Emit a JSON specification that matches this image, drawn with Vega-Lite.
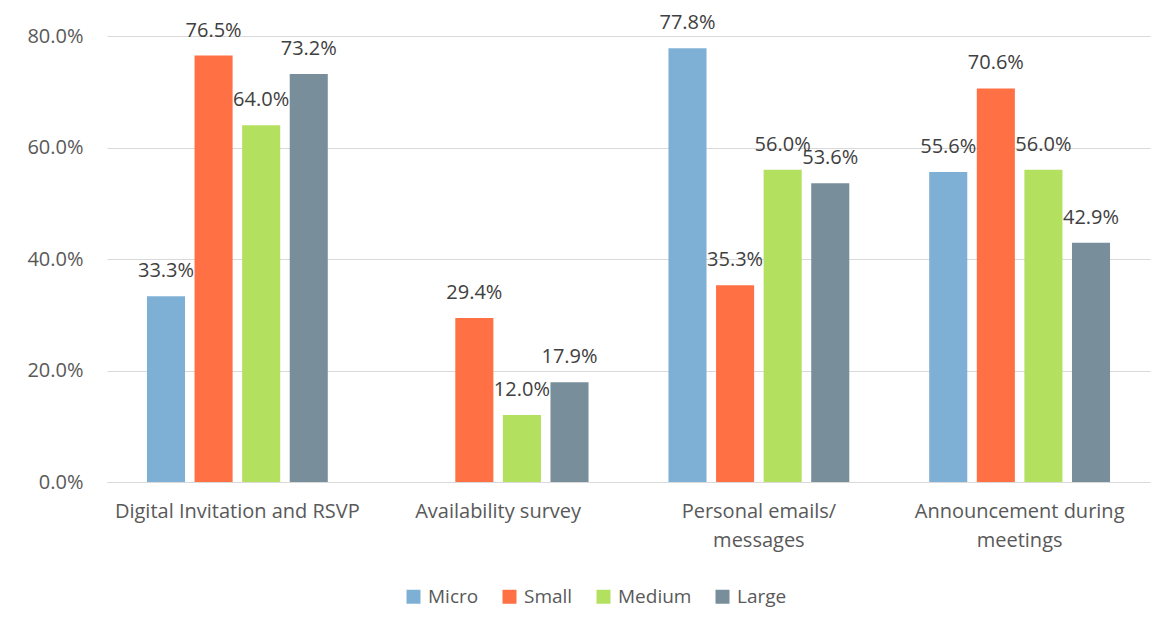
{
  "$schema": "https://vega.github.io/schema/vega-lite/v6.json",
  "autosize": {"type": "none"},
  "width": 1043,
  "height": 446,
  "padding": {"left": 107, "top": 36, "right": 21, "bottom": 147},
  "background": "white",
  "config": {
    "view": {"stroke": null},
    "font": "Open Sans",
    "axis": {"labelFont": "Open Sans", "labelColor": "#595959", "labelFontSize": 20, "labelLimit": 0}
  },
  "data": {
    "values": [
      {"channel": "Digital Invitation and RSVP", "size": "Micro", "share": 0.333},
      {"channel": "Digital Invitation and RSVP", "size": "Small", "share": 0.765},
      {"channel": "Digital Invitation and RSVP", "size": "Medium", "share": 0.64},
      {"channel": "Digital Invitation and RSVP", "size": "Large", "share": 0.732},
      {"channel": "Availability survey", "size": "Small", "share": 0.294},
      {"channel": "Availability survey", "size": "Medium", "share": 0.12},
      {"channel": "Availability survey", "size": "Large", "share": 0.179},
      {"channel": "Personal emails/ messages", "size": "Micro", "share": 0.778},
      {"channel": "Personal emails/ messages", "size": "Small", "share": 0.353},
      {"channel": "Personal emails/ messages", "size": "Medium", "share": 0.56},
      {"channel": "Personal emails/ messages", "size": "Large", "share": 0.536},
      {"channel": "Announcement during meetings", "size": "Micro", "share": 0.556},
      {"channel": "Announcement during meetings", "size": "Small", "share": 0.706},
      {"channel": "Announcement during meetings", "size": "Medium", "share": 0.56},
      {"channel": "Announcement during meetings", "size": "Large", "share": 0.429}
    ]
  },
  "encoding": {
    "x": {
      "field": "channel",
      "type": "nominal",
      "sort": ["Digital Invitation and RSVP", "Availability survey", "Personal emails/ messages", "Announcement during meetings"],
      "scale": {"paddingInner": 0.27, "paddingOuter": 0.135},
      "axis": {
        "title": null,
        "labelAngle": 0,
        "ticks": false,
        "domainColor": "#D9D9D9",
        "domainWidth": 1,
        "labelPadding": 19,
        "labelLineHeight": 29,
        "labelBaseline": "top",
        "labelExpr": "datum.value == 'Personal emails/ messages' ? ['Personal emails/', 'messages'] : datum.value == 'Announcement during meetings' ? ['Announcement during', 'meetings'] : datum.value"
      }
    },
    "xOffset": {
      "field": "size",
      "type": "nominal",
      "sort": ["Micro", "Small", "Medium", "Large"],
      "scale": {"paddingInner": 0.2, "paddingOuter": 0.1}
    },
    "y": {
      "field": "share",
      "type": "quantitative",
      "scale": {"domain": [0, 0.8], "nice": false},
      "axis": {
        "title": null,
        "format": ".1%",
        "values": [0, 0.2, 0.4, 0.6, 0.8],
        "domain": false,
        "ticks": false,
        "labelPadding": 24,
        "gridColor": "#D9D9D9",
        "gridWidth": 1
      }
    }
  },
  "layer": [
    {
      "mark": {"type": "bar"},
      "encoding": {
        "color": {
          "field": "size",
          "type": "nominal",
          "sort": ["Micro", "Small", "Medium", "Large"],
          "scale": {
            "domain": ["Micro", "Small", "Medium", "Large"],
            "range": ["#7EB0D5", "#FF7145", "#B3E05F", "#788F9B"]
          },
          "legend": {
            "title": null,
            "orient": "none",
            "direction": "horizontal",
            "legendX": 297,
            "legendY": 551,
            "symbolType": "square",
            "symbolSize": 196,
            "symbolStrokeWidth": 0,
            "symbolOpacity": 1,
            "labelFont": "Open Sans",
            "labelFontSize": 19,
            "labelColor": "#595959",
            "labelLimit": 0,
            "columnPadding": 21,
            "labelOffset": 5
          }
        }
      }
    },
    {
      "mark": {
        "type": "text",
        "baseline": "alphabetic",
        "dy": -19,
        "font": "Open Sans",
        "fontSize": 20,
        "color": "#404040"
      },
      "encoding": {
        "text": {"field": "share", "type": "quantitative", "format": ".1%"}
      }
    }
  ]
}
